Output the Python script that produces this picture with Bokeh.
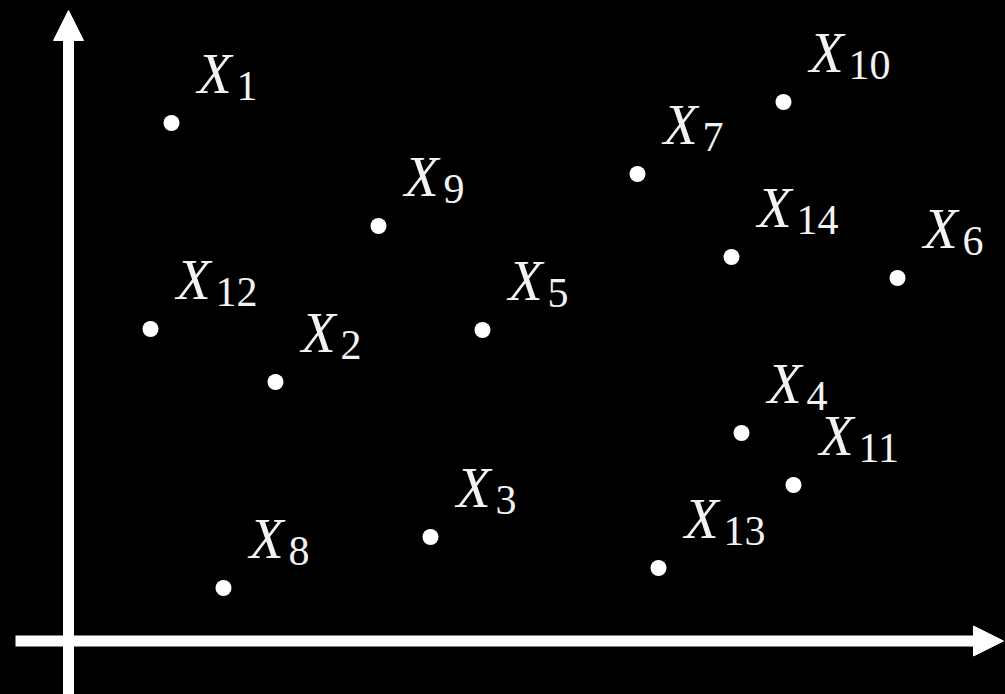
from bokeh.plotting import figure
from bokeh.models import ColumnDataSource, Range1d, Arrow, NormalHead
from bokeh.core.properties import value
from bokeh.embed import file_html
from bokeh.resources import INLINE

# point data (origin at the axes crossing)
names = ["1", "2", "3", "4", "5", "6", "7", "8", "9", "10", "11", "12", "13", "14"]
xs = [1.03, 2.07, 3.62, 6.73, 4.14, 8.29, 5.69, 1.55, 3.10, 7.15, 7.25, 0.82, 5.90, 6.63]
ys = [5.18, 2.59, 1.04, 2.08, 3.11, 3.63, 4.67, 0.53, 4.15, 5.39, 1.56, 3.12, 0.73, 3.84]
mains = ["X"] * len(names)

# axis extents
x_axis_start, x_axis_end = -0.53, 9.35
y_axis_start, y_axis_end = -0.60, 6.305

src = ColumnDataSource(dict(x=xs, y=ys, main=mains, sub=names))

p = figure(width=1005, height=694, output_backend="svg", toolbar_location=None,
           x_range=Range1d(-0.68, 9.37), y_range=Range1d(-0.535, 6.405),
           min_border=0, background_fill_color="#000000", border_fill_color="#000000",
           outline_line_color=None)
p.xaxis.visible = False
p.yaxis.visible = False
p.grid.visible = False

# axes arrows
p.add_layout(Arrow(x_start=x_axis_start, y_start=0, x_end=x_axis_end, y_end=0,
                   line_color="#ffffff", line_width=11,
                   end=NormalHead(size=30, fill_color="#ffffff", line_color="#ffffff", line_width=1)))
p.add_layout(Arrow(x_start=0, y_start=y_axis_start, x_end=0, y_end=y_axis_end,
                   line_color="#ffffff", line_width=11,
                   end=NormalHead(size=30, fill_color="#ffffff", line_color="#ffffff", line_width=1)))

# points
p.scatter("x", "y", source=src, size=16, fill_color="#ffffff", line_color="#ffffff", line_width=0)

# labels
serif = value("Liberation Serif")
p.text("x", "y", text="main", source=src, x_offset=26, y_offset=-49,
       text_font=serif, text_font_style="italic",
       text_font_size="56px", text_color="#f2f2f2",
       text_align="left", text_baseline="alphabetic")
p.text("x", "y", text="sub", source=src, x_offset=65, y_offset=-37,
       text_font=serif, text_font_size="42px", text_color="#f2f2f2",
       text_align="left", text_baseline="alphabetic")

html = file_html(p, INLINE)
html = html.replace("</head>", "<style>html,body{background:#000000;}</style></head>", 1)
open("out.html", "w").write(html)
